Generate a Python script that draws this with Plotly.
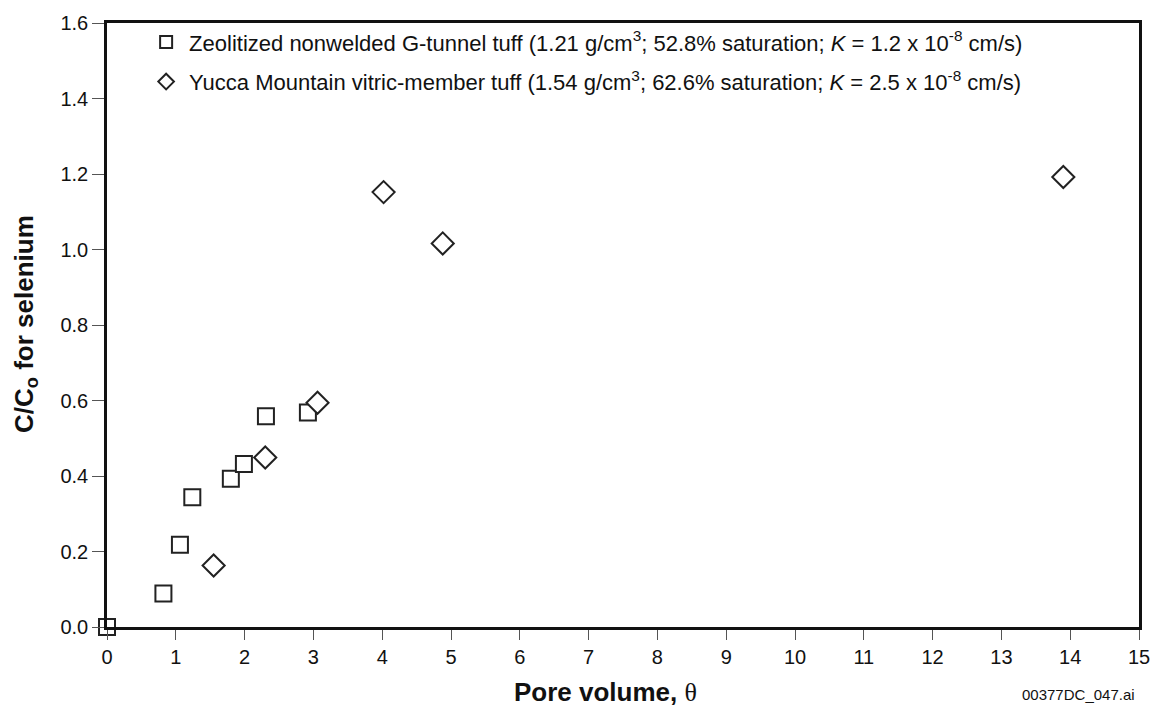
import plotly.graph_objects as go

# Data
zeo_x = [0.0, 0.82, 1.06, 1.24, 1.80, 1.99, 2.31, 2.92]
zeo_y = [0.0, 0.089, 0.218, 0.344, 0.393, 0.432, 0.558, 0.568]
yuc_x = [1.55, 2.30, 3.06, 4.02, 4.88, 13.90]
yuc_y = [0.163, 0.449, 0.594, 1.152, 1.016, 1.192]

zeo_name = "Zeolitized nonwelded G-tunnel tuff (1.21 g/cm<sup>3</sup>; 52.8% saturation; <i>K</i> = 1.2 x 10<sup>-8</sup> cm/s)"
yuc_name = "Yucca Mountain vitric-member tuff (1.54 g/cm<sup>3</sup>; 62.6% saturation; <i>K</i> = 2.5 x 10<sup>-8</sup> cm/s)"

x_ticks = list(range(0, 16))
y_ticks = [0.0, 0.2, 0.4, 0.6, 0.8, 1.0, 1.2, 1.4, 1.6]

x_title = "<b>Pore volume,</b> <span style='font-family:Liberation Serif, Times New Roman, serif'>θ</span>"
y_title = "<b>C/C<sub>o</sub> for selenium</b>"

fig = go.Figure()
fig.add_trace(go.Scatter(
    x=zeo_x, y=zeo_y, mode="markers", name=zeo_name, cliponaxis=False,
    legendgroup="a",
    marker=dict(symbol="square", size=16, color="white",
                line=dict(color="#222", width=2))))
fig.add_trace(go.Scatter(
    x=yuc_x, y=yuc_y, mode="markers", name=yuc_name, cliponaxis=False,
    legendgroup="b",
    marker=dict(symbol="diamond", size=17, color="white",
                line=dict(color="#222", width=2))))

font = "Liberation Sans, Arial, sans-serif"
fig.update_layout(
    width=1162, height=710,
    margin=dict(l=107, r=17, t=14, b=83),
    paper_bgcolor="white", plot_bgcolor="white",
    font=dict(family=font, size=20, color="#111"),
    legend=dict(x=0.035, y=1.003, xanchor="left", yanchor="top",
                bgcolor="rgba(0,0,0,0)", font=dict(size=22),
                itemsizing="constant", itemwidth=36, tracegroupgap=8),
    xaxis=dict(range=[0, 15], tickvals=x_ticks, ticktext=[str(v) for v in x_ticks],
               showgrid=False, zeroline=False, showline=True, linecolor="#111",
               linewidth=2.5, mirror=True, ticks="outside", ticklen=10,
               tickwidth=1.2, tickcolor="#555",
               tickfont=dict(size=20)),
    yaxis=dict(range=[0, 1.6], tickvals=y_ticks, ticktext=[f"{v:.1f}" for v in y_ticks],
               showgrid=False, zeroline=False, showline=True, linecolor="#111",
               linewidth=2.5, mirror=True, ticks="outside", ticklen=12,
               tickwidth=1.2, tickcolor="#555",
               tickfont=dict(size=20)),
    annotations=[
        dict(text=x_title, xref="paper", yref="paper", x=0.4827, y=-0.1077,
             xanchor="center", yanchor="middle", showarrow=False,
             font=dict(size=26, color="#111")),
        dict(text=y_title, xref="paper", yref="paper", x=-0.079, y=0.5025,
             xanchor="center", yanchor="middle", showarrow=False, textangle=-90,
             font=dict(size=26, color="#111")),
        dict(text="00377DC_047.ai", xref="paper", yref="paper",
             x=0.998, y=-0.095, xanchor="right", yanchor="top",
             showarrow=False, font=dict(size=15, color="#111")),
    ]
)

fig.write_html("out.html", config={"displayModeBar": False},
               post_script="document.body.style.margin='0px';document.body.style.overflow='hidden';")
